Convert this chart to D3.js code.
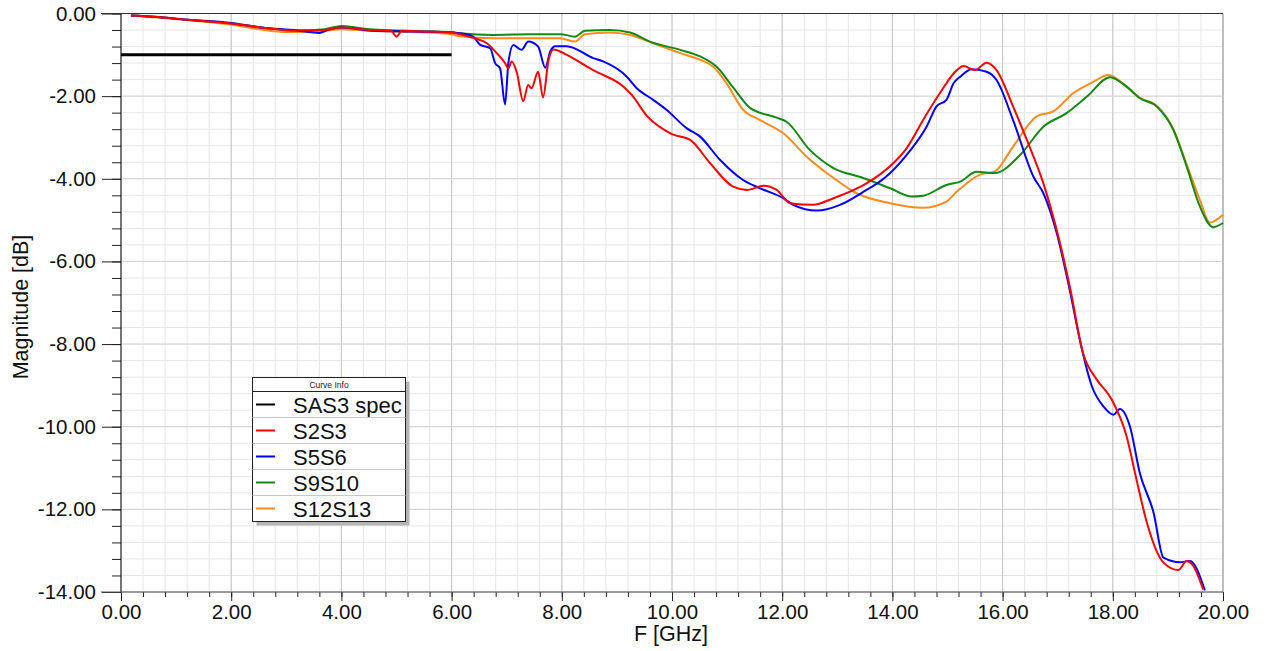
<!DOCTYPE html>
<html>
<head>
<meta charset="utf-8">
<script src="https://cdn.jsdelivr.net/npm/d3@7"></script>
<style>
  body { margin: 0; background: #fff; }
  svg { font-family: "Liberation Sans", Arial, sans-serif; }
  .axis path { display: none; }
  .axis line { stroke: #222; }
</style>
</head>
<body>
<div id="chart"></div>
<script>
// values: [GHz, dB]
var sas3Spec = [[0, -1], [6, -1]];

var s2s3 = [[0.18,-0.05],[0.6,-0.08],[1.2,-0.15],[2.0,-0.24],[2.5,-0.33],[3.2,-0.41],[3.7,-0.40],[4.0,-0.34],[4.5,-0.40],[4.9,-0.42],[5.0,-0.56],[5.1,-0.42],[5.6,-0.44],[6.0,-0.46],[6.15,-0.50],[6.42,-0.60],[6.64,-0.72],[6.82,-0.96],[6.97,-1.20],[7.03,-1.33],[7.09,-1.16],[7.18,-1.41],[7.30,-2.12],[7.39,-1.73],[7.45,-1.81],[7.57,-1.41],[7.66,-2.03],[7.76,-1.12],[7.85,-0.87],[8.09,-1.00],[8.57,-1.37],[8.69,-1.45],[9.12,-1.77],[9.27,-1.97],[9.54,-2.47],[9.84,-2.80],[10.0,-2.92],[10.33,-3.06],[10.69,-3.62],[11.11,-4.19],[11.36,-4.27],[11.66,-4.17],[11.90,-4.27],[12.14,-4.59],[12.56,-4.63],[12.93,-4.47],[13.53,-4.11],[13.77,-3.90],[14.02,-3.62],[14.26,-3.26],[14.56,-2.57],[14.86,-1.93],[15.17,-1.37],[15.29,-1.27],[15.50,-1.37],[15.71,-1.19],[15.89,-1.37],[16.19,-2.25],[16.44,-3.06],[16.74,-4.11],[16.98,-5.23],[17.22,-6.61],[17.46,-8.22],[17.71,-8.86],[17.98,-9.34],[18.25,-10.23],[18.43,-11.28],[18.62,-12.33],[18.92,-13.29],[19.19,-13.47],[19.34,-13.25],[19.46,-13.37],[19.64,-13.94]];

var s5s6 = [[0.18,-0.05],[0.6,-0.08],[1.2,-0.15],[2.0,-0.23],[2.5,-0.33],[3.2,-0.41],[3.6,-0.47],[3.75,-0.40],[4.0,-0.34],[4.5,-0.41],[5.0,-0.43],[5.6,-0.44],[6.0,-0.46],[6.15,-0.48],[6.39,-0.56],[6.52,-0.76],[6.70,-0.84],[6.79,-1.20],[6.88,-1.33],[6.97,-2.20],[7.03,-1.20],[7.12,-0.76],[7.27,-0.88],[7.39,-0.68],[7.57,-0.80],[7.70,-1.31],[7.79,-0.92],[7.88,-0.79],[8.09,-0.79],[8.57,-1.08],[8.75,-1.16],[9.18,-1.53],[9.36,-1.81],[9.66,-2.09],[9.90,-2.33],[10.27,-2.78],[10.51,-2.98],[10.87,-3.54],[11.29,-4.03],[11.60,-4.23],[12.02,-4.47],[12.20,-4.63],[12.63,-4.77],[13.05,-4.63],[13.53,-4.27],[13.77,-4.07],[13.96,-3.86],[14.32,-3.32],[14.62,-2.74],[14.80,-2.25],[14.98,-2.09],[15.11,-1.69],[15.23,-1.53],[15.44,-1.35],[15.71,-1.41],[15.89,-1.61],[16.19,-2.58],[16.56,-3.95],[16.74,-4.35],[16.98,-5.30],[17.22,-6.70],[17.40,-7.89],[17.62,-9.02],[17.83,-9.51],[18.01,-9.71],[18.13,-9.57],[18.31,-9.99],[18.49,-11.12],[18.74,-12.08],[18.92,-13.17],[19.22,-13.28],[19.40,-13.25],[19.67,-13.96]];

var s9s10 = [[0.18,-0.05],[0.6,-0.08],[1.2,-0.15],[2.0,-0.24],[2.5,-0.33],[3.2,-0.41],[3.7,-0.38],[4.0,-0.30],[4.5,-0.38],[5.0,-0.41],[5.6,-0.43],[6.0,-0.45],[6.15,-0.48],[6.76,-0.52],[7.4,-0.50],[7.97,-0.50],[8.24,-0.56],[8.42,-0.42],[8.87,-0.40],[9.24,-0.46],[9.60,-0.68],[10.15,-0.88],[10.51,-1.04],[10.81,-1.29],[11.11,-1.79],[11.42,-2.29],[11.90,-2.52],[12.08,-2.62],[12.50,-3.30],[12.93,-3.74],[13.47,-3.98],[13.96,-4.23],[14.35,-4.43],[14.56,-4.41],[14.98,-4.15],[15.23,-4.07],[15.53,-3.83],[15.86,-3.86],[16.32,-3.42],[16.74,-2.74],[17.16,-2.41],[17.53,-2.01],[17.95,-1.54],[18.25,-1.77],[18.49,-2.05],[18.80,-2.25],[19.10,-2.82],[19.34,-3.70],[19.58,-4.67],[19.82,-5.17],[20.0,-5.07]];

var s12s13 = [[0.18,-0.05],[0.6,-0.09],[1.2,-0.16],[2.0,-0.27],[2.5,-0.38],[3.0,-0.45],[3.5,-0.44],[4.0,-0.38],[4.5,-0.42],[5.0,-0.44],[5.6,-0.46],[6.0,-0.50],[6.15,-0.55],[6.76,-0.60],[7.4,-0.60],[7.97,-0.60],[8.24,-0.68],[8.42,-0.50],[8.87,-0.46],[9.24,-0.52],[9.66,-0.72],[10.15,-0.96],[10.51,-1.12],[10.75,-1.29],[10.99,-1.69],[11.29,-2.33],[11.60,-2.58],[12.02,-2.90],[12.44,-3.46],[12.93,-3.98],[13.35,-4.35],[13.96,-4.59],[14.55,-4.70],[14.98,-4.55],[15.17,-4.31],[15.59,-3.90],[15.86,-3.82],[16.19,-3.22],[16.62,-2.49],[16.92,-2.37],[17.28,-1.93],[17.65,-1.65],[17.92,-1.49],[18.25,-1.77],[18.49,-2.04],[18.80,-2.24],[19.10,-2.80],[19.34,-3.65],[19.58,-4.51],[19.76,-5.06],[20.0,-4.87]];

var seriesNames = ["SAS3 spec", "S2S3", "S5S6", "S9S10", "S12S13"];
var seriesData = [sas3Spec, s2s3, s5s6, s9s10, s12s13];
var seriesColors = ["#000000", "#ff0000", "#0000ff", "#138a13", "#ff8c1a"];

var xMajor = d3.range(0, 20.001, 2);
var yMajor = d3.range(0, -14.001, -2);
var xMinor = d3.range(0, 20.001, 0.4);
var yMinor = d3.range(0, -14.001, -0.4);

var margin = { top: 13.5, right: 45, bottom: 59, left: 121 };
var W = 1268, H = 651;
var width = W - margin.left - margin.right,
    height = H - margin.top - margin.bottom;

var svg = d3.select("#chart").append("svg")
    .attr("width", W)
    .attr("height", H);

var g = svg.append("g")
    .attr("transform", "translate(" + margin.left + "," + margin.top + ")");

var x = d3.scaleLinear().domain([0, 20]).range([0, width]);
var y = d3.scaleLinear().domain([-14, 0]).range([height, 0]);
var fmt = function(d) { return d.toFixed(2); };

// grid
g.append("g").selectAll("line.vmin").data(xMinor).enter().append("line")
    .attr("x1", function(d) { return x(d); }).attr("x2", function(d) { return x(d); })
    .attr("y1", 0).attr("y2", height)
    .attr("stroke", "#e6e6e6").attr("stroke-width", 1);
g.append("g").selectAll("line.hmin").data(yMinor).enter().append("line")
    .attr("y1", function(d) { return y(d); }).attr("y2", function(d) { return y(d); })
    .attr("x1", 0).attr("x2", width)
    .attr("stroke", "#e6e6e6").attr("stroke-width", 1);
g.append("g").selectAll("line.vmaj").data(xMajor).enter().append("line")
    .attr("x1", function(d) { return x(d); }).attr("x2", function(d) { return x(d); })
    .attr("y1", 0).attr("y2", height)
    .attr("stroke", function(d) { return d === 20 ? "#888" : "#c4c4c4"; }).attr("stroke-width", 1);
g.append("g").selectAll("line.hmaj").data(yMajor).enter().append("line")
    .attr("y1", function(d) { return y(d); }).attr("y2", function(d) { return y(d); })
    .attr("x1", 0).attr("x2", width)
    .attr("stroke", "#d4d4d4").attr("stroke-width", 1);

// axes
g.append("g").attr("class", "axis")
    .call(d3.axisLeft(y).tickValues(yMinor).tickSize(9).tickFormat(""));
g.append("g").attr("class", "axis")
    .call(d3.axisLeft(y).tickValues(yMajor).tickSize(19).tickPadding(6).tickFormat(fmt))
    .selectAll("text").attr("font-size", "20.5px").attr("fill", "#111").attr("font-family", "Liberation Sans, Arial, sans-serif");

g.append("g").attr("class", "axis").attr("transform", "translate(0," + height + ")")
    .call(d3.axisBottom(x).tickValues(xMinor).tickSize(5).tickFormat(""));
g.append("g").attr("class", "axis").attr("transform", "translate(0," + height + ")")
    .call(d3.axisBottom(x).tickValues(xMajor).tickSize(9).tickPadding(3).tickFormat(fmt))
    .selectAll("text").attr("font-size", "20.5px").attr("fill", "#111").attr("font-family", "Liberation Sans, Arial, sans-serif");

// frame lines
g.append("line").attr("x1", 0).attr("x2", 0).attr("y1", 0).attr("y2", height).attr("stroke", "#111");
g.append("line").attr("x1", -20).attr("x2", width).attr("y1", height).attr("y2", height).attr("stroke", "#555");
g.append("line").attr("x1", -20).attr("x2", width).attr("y1", 0).attr("y2", 0).attr("stroke", "#333");

// axis titles
svg.append("text")
    .attr("x", 671).attr("y", 641)
    .attr("text-anchor", "middle")
    .attr("font-size", "21.5px").attr("fill", "#111")
    .text("F [GHz]");
svg.append("text")
    .attr("transform", "translate(28,307) rotate(-90)")
    .attr("text-anchor", "middle")
    .attr("font-size", "21.5px").attr("fill", "#111")
    .text("Magnitude [dB]");

// curves
var line = d3.line()
    .x(function(d) { return x(d[0]); })
    .y(function(d) { return y(d[1]); })
    .curve(d3.curveMonotoneX);

var plot = g.append("g");
[4, 3, 2, 1, 0].forEach(function(i) {
    plot.append("path")
        .attr("d", line(seriesData[i]))
        .attr("fill", "none")
        .attr("stroke", seriesColors[i])
        .attr("stroke-width", i === 0 ? 3 : 2)
        .attr("stroke-linejoin", "round");
});

// legend
var lg = svg.append("g").attr("transform", "translate(252.5,377.5)");
var lw = 153, rowH = 26, headH = 14;
var lh = headH + rowH * seriesNames.length;
lg.append("rect").attr("x", 4).attr("y", 4).attr("width", lw).attr("height", lh).attr("fill", "#b4b4b4");
lg.append("rect").attr("width", lw).attr("height", lh).attr("fill", "#fff").attr("stroke", "#222");
lg.append("text").attr("x", lw / 2).attr("y", 10.5).attr("text-anchor", "middle")
    .attr("font-size", "8.5px").attr("fill", "#222").text("Curve Info");

var rows = lg.selectAll("g.row").data(seriesNames).enter().append("g")
    .attr("transform", function(d, i) { return "translate(0," + (headH + i * rowH) + ")"; });
rows.append("line").attr("x1", 0).attr("x2", lw).attr("y1", 0).attr("y2", 0)
    .attr("stroke", function(d, i) { return i === 0 ? "#222" : "#c8c8c8"; });
rows.append("line").attr("x1", 3.5).attr("x2", 22.5).attr("y1", rowH / 2).attr("y2", rowH / 2)
    .attr("stroke", function(d, i) { return seriesColors[i]; }).attr("stroke-width", 2);
rows.append("text").attr("x", 40.5).attr("y", rowH / 2 + 8)
    .attr("font-size", "22px").attr("fill", "#111")
    .text(function(d) { return d; });
</script>
</body>
</html>
